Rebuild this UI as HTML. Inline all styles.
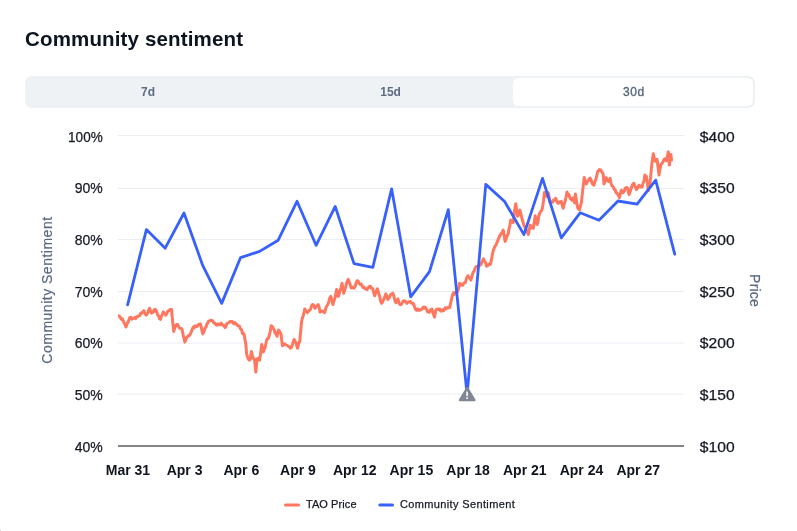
<!DOCTYPE html>
<html><head><meta charset="utf-8"><title>Community sentiment</title>
<style>
html,body{margin:0;padding:0;background:#fff;}
body{width:797px;height:531px;position:relative;overflow:hidden;font-family:"Liberation Sans",sans-serif;}
h2{position:absolute;left:25px;top:26px;margin:0;font-size:20.5px;line-height:26px;font-weight:700;color:#0d1421;white-space:nowrap;letter-spacing:0.15px}
.tabs{position:absolute;left:25px;top:76px;width:730px;height:32px;background:#eff2f5;border-radius:6.5px;box-sizing:border-box}
.tab{position:absolute;top:2px;width:240px;height:28px;line-height:28px;text-align:center;font-size:12px;font-weight:700;color:#5d6b83;border-radius:5.5px}
.tab.on{background:#fff;color:#58667e;font-weight:400;-webkit-text-stroke:0.35px #58667e;letter-spacing:0.6px}
svg text{font-family:"Liberation Sans",sans-serif}
.ax{font-size:14px;fill:#161a25;stroke:#161a25;stroke-width:0.25px}
.xl{font-size:14px;font-weight:700;fill:#10141f}
.at{font-size:14px;fill:#5b6880;stroke:#5b6880;stroke-width:0.2px}
.lg{font-size:11px;fill:#161a25;stroke:#161a25;stroke-width:0.25px}
</style></head><body>
<h2>Community sentiment</h2>
<div class="tabs"><div class="tab" style="left:3px">7d</div><div class="tab" style="left:245.6px">15d</div><div class="tab on" style="left:488px"><span style="position:relative;left:0.8px">30d</span></div></div>
<svg width="797" height="531" viewBox="0 0 797 531" style="position:absolute;left:0;top:0">
<rect x="118" y="135.0" width="566" height="1" fill="#eaeef3"/>
<rect x="118" y="188.0" width="566" height="1" fill="#eaeef3"/>
<rect x="118" y="239.0" width="566" height="1" fill="#eaeef3"/>
<rect x="118" y="291.0" width="566" height="1" fill="#eaeef3"/>
<rect x="118" y="342.5" width="566" height="1" fill="#eaeef3"/>
<rect x="118" y="393.5" width="566" height="1" fill="#eaeef3"/>
<rect x="118" y="445" width="566" height="2" fill="#828488"/>
<clipPath id="pc"><rect x="118" y="120" width="566" height="330"/></clipPath>
<polyline clip-path="url(#pc)" points="118.1,315.7 118.9,316.1 119.8,316.6 120.6,318.2 121.5,319.4 122.3,318.9 123.2,320.7 124.1,322.9 125.1,324.6 126.0,327.0 127.1,323.5 128.2,322.0 129.0,319.8 129.8,317.6 130.9,317.3 131.9,319.1 132.9,318.5 133.8,318.2 134.8,317.5 135.7,318.6 136.7,316.7 137.8,316.5 138.8,315.7 139.6,315.8 140.5,313.6 141.3,313.8 142.2,312.2 143.0,312.0 143.9,310.7 145.1,313.8 146.1,315.1 147.0,314.4 147.8,312.5 148.7,310.0 149.5,308.2 150.6,311.7 151.6,313.2 152.5,311.3 153.4,312.1 154.3,309.9 155.2,309.4 156.0,310.5 156.9,312.4 157.7,315.1 158.6,316.1 159.5,318.7 160.4,319.5 161.4,316.3 162.3,314.6 163.3,311.9 164.1,313.3 165.0,313.8 165.8,315.1 166.6,314.1 167.4,311.9 168.2,310.8 169.0,310.7 169.8,309.6 170.7,310.2 171.5,309.4 172.5,320.1 173.7,331.4 174.8,328.1 175.9,325.1 176.8,324.4 177.7,324.5 178.6,326.5 179.6,328.2 180.4,328.5 181.3,328.6 182.1,329.5 183.0,334.3 184.0,338.3 184.9,342.1 186.0,339.0 187.1,337.0 187.9,336.4 188.7,335.5 189.5,335.5 190.3,333.9 191.3,332.1 192.4,328.8 193.4,327.0 194.2,327.9 195.0,325.9 195.8,326.4 196.6,326.4 197.5,326.3 198.4,324.4 199.4,324.5 200.3,323.9 201.1,326.2 202.0,330.9 202.8,333.9 203.6,332.4 204.5,329.9 205.3,327.6 206.1,326.9 206.9,324.0 207.7,323.3 208.5,321.3 209.3,321.1 210.2,320.7 211.0,320.1 211.8,320.3 212.5,320.7 213.4,322.3 214.3,323.4 215.1,323.3 216.0,324.6 216.9,325.1 217.8,323.8 218.7,324.8 219.5,324.3 220.4,324.7 221.3,323.2 222.2,325.0 223.2,324.9 224.2,326.2 225.1,327.6 225.9,326.5 226.8,323.6 227.6,323.2 228.5,322.8 229.4,321.8 230.4,321.4 231.3,321.9 232.2,321.6 233.2,323.2 234.0,323.9 234.9,322.7 235.7,323.6 236.6,324.1 237.6,325.7 238.6,325.8 239.5,326.3 240.4,328.7 241.4,329.4 242.6,333.8 243.3,333.2 244.1,334.5 244.9,339.1 245.8,343.9 246.6,353.9 247.4,356.5 248.3,358.9 249.2,360.1 250.2,359.6 251.4,351.4 252.4,355.6 253.3,358.3 254.5,359.6 255.8,372.1 257.1,358.9 258.3,358.3 259.6,360.2 260.6,353.2 261.7,344.5 262.5,347.8 263.3,352.0 264.2,349.3 265.2,347.0 266.5,340.7 267.3,338.9 268.2,338.6 269.0,336.3 270.1,332.0 271.2,325.7 272.3,326.5 273.4,328.8 274.3,330.3 275.2,333.2 276.1,334.2 277.1,336.3 278.4,330.1 279.2,330.7 280.1,332.5 280.9,333.8 281.7,340.0 282.5,345.8 283.4,344.8 284.4,343.8 285.3,344.5 286.3,345.0 287.4,345.5 288.4,346.4 289.4,346.9 290.3,348.2 291.3,347.6 292.2,345.3 293.2,342.2 294.1,339.5 295.1,341.3 296.0,342.6 296.8,345.8 297.5,348.3 298.6,343.9 299.7,341.4 300.6,332.2 301.6,321.3 302.5,317.7 303.3,315.4 304.0,312.7 304.8,308.9 305.7,310.8 306.6,311.2 307.5,312.7 308.3,311.6 309.2,310.2 310.0,310.2 310.8,308.6 311.7,305.4 312.5,304.5 313.4,304.8 314.2,306.4 315.1,308.3 316.1,306.3 317.2,305.4 318.2,304.5 319.1,307.3 320.1,312.1 320.9,310.8 321.8,310.9 322.6,311.4 323.6,311.2 324.5,312.7 325.3,310.1 326.2,307.1 327.0,305.8 327.9,304.3 328.9,301.4 329.8,298.0 330.7,296.4 331.8,299.9 332.9,304.5 334.0,300.7 335.1,297.6 335.9,293.3 336.6,289.5 337.5,292.1 338.3,296.4 339.2,294.0 340.2,290.1 341.1,287.7 342.0,283.2 342.9,288.1 343.7,293.2 344.8,289.7 345.8,286.3 346.6,283.1 347.5,280.8 348.3,279.4 349.1,281.6 350.0,283.9 350.8,287.0 351.6,288.0 352.4,286.9 353.2,286.9 354.0,288.2 355.0,286.7 356.1,283.3 357.1,280.7 358.1,281.2 359.2,283.3 360.2,284.4 361.1,284.0 362.1,285.8 363.1,287.4 364.0,287.0 365.0,288.6 366.1,289.1 367.1,289.5 367.9,287.9 368.8,287.1 369.6,286.3 370.4,286.2 371.2,288.1 372.0,288.2 372.8,288.8 373.8,292.9 374.7,295.7 375.6,293.0 376.6,290.5 377.5,288.8 378.6,293.3 379.7,296.4 380.6,300.9 381.6,303.3 382.5,302.2 383.3,300.2 384.2,298.4 385.0,296.3 385.9,293.9 386.9,296.1 387.8,299.5 388.6,298.5 389.5,297.1 390.3,295.3 391.1,294.3 392.0,293.8 392.8,293.2 393.6,295.0 394.4,298.3 395.2,301.3 396.0,302.6 396.9,300.6 397.9,298.9 398.9,302.7 400.0,304.6 400.9,304.7 401.9,303.7 402.9,301.5 403.8,300.8 404.8,301.0 405.9,301.9 406.9,303.3 407.7,302.2 408.5,301.7 409.3,302.1 410.1,301.4 411.1,302.9 412.2,303.4 413.2,303.3 414.0,305.4 414.9,307.8 415.7,309.6 416.6,310.3 417.5,308.7 418.3,310.0 419.2,310.5 420.1,309.6 420.9,309.8 421.8,309.3 422.6,308.3 423.4,307.2 424.3,308.2 425.1,307.1 426.1,308.4 427.2,311.1 428.2,312.1 429.1,312.4 430.1,310.3 431.1,309.6 432.0,309.0 432.8,312.7 433.7,314.9 434.5,317.1 435.8,310.2 436.8,309.3 437.9,309.0 438.9,309.6 439.8,309.1 440.7,311.0 441.5,311.0 442.4,309.8 443.3,310.8 444.2,310.0 445.2,307.7 446.1,308.8 447.0,308.0 447.8,307.4 448.7,307.8 449.6,307.7 450.8,302.7 451.8,297.8 452.7,294.5 453.5,292.8 454.4,294.3 455.2,292.6 456.0,292.5 456.9,291.9 457.7,291.4 458.6,288.3 459.6,283.2 460.4,283.7 461.3,285.3 462.1,285.1 462.9,285.2 463.7,283.2 464.5,282.7 465.3,282.6 466.1,279.8 467.0,277.4 467.8,275.7 468.8,277.4 469.9,278.1 470.9,280.1 471.7,277.2 472.6,273.8 473.4,271.9 474.2,271.1 475.1,268.2 475.9,266.9 476.8,266.4 477.7,266.3 478.5,266.6 479.4,265.2 480.3,265.0 481.1,264.4 481.9,261.9 482.7,260.4 483.5,258.8 484.5,261.4 485.6,262.7 486.6,266.3 487.6,265.7 488.5,264.7 489.4,263.8 490.4,264.4 491.4,259.9 492.5,254.0 493.4,250.1 494.4,247.7 495.2,246.0 496.1,244.9 496.9,242.7 497.7,240.9 498.5,238.6 499.3,237.1 500.1,235.2 501.1,233.6 502.2,232.4 503.2,230.1 504.1,234.9 505.1,241.4 506.1,239.0 507.2,235.8 508.2,233.9 509.0,228.8 509.9,225.3 510.7,220.1 511.5,221.0 512.4,221.9 513.2,222.6 514.5,211.3 515.8,203.8 516.7,210.6 517.6,216.3 518.4,215.1 519.1,212.0 519.9,210.1 521.0,214.7 522.0,218.8 523.0,222.0 523.9,225.1 524.8,227.0 525.8,228.9 526.6,231.2 527.5,232.5 528.3,234.5 529.2,229.9 530.2,225.1 531.2,226.1 532.3,228.1 533.3,228.2 534.2,222.4 535.2,215.7 536.2,220.9 537.1,224.5 537.9,222.0 538.6,217.0 539.4,214.0 540.4,212.0 541.5,210.8 542.5,207.7 543.5,200.9 544.4,192.6 545.2,193.1 546.1,194.3 546.9,196.4 548.2,192.6 549.2,197.5 550.1,202.7 550.9,201.6 551.8,201.7 552.6,202.1 553.6,199.9 554.7,199.9 555.7,198.3 556.5,200.6 557.4,202.5 558.2,203.3 559.2,201.9 560.3,202.5 561.3,201.4 562.2,205.2 563.2,208.3 564.2,204.1 565.1,201.4 566.0,197.5 567.0,192.0 567.8,194.5 568.7,194.3 569.5,196.4 570.3,198.7 571.2,198.7 572.0,200.2 573.3,197.7 574.5,202.7 575.4,193.9 576.2,198.5 576.9,204.2 577.7,207.7 578.6,209.4 579.5,209.6 580.5,205.4 581.4,202.7 582.7,190.1 583.5,183.7 584.2,177.6 585.3,180.8 586.4,183.9 587.3,181.9 588.3,180.7 589.2,178.8 590.2,178.2 591.2,180.3 592.1,183.2 593.0,184.6 594.0,185.1 595.0,181.2 595.9,179.5 596.8,175.5 597.7,171.3 598.5,170.9 599.3,169.6 600.1,170.0 600.9,170.1 602.0,172.3 603.1,173.9 604.0,183.9 604.8,181.8 605.5,178.7 606.3,177.6 607.2,180.6 608.2,181.4 609.1,180.5 610.0,178.3 611.0,183.1 611.9,185.8 612.7,186.2 613.6,187.8 614.4,189.6 615.2,189.8 616.1,192.7 616.9,193.3 617.7,194.3 618.6,195.4 619.4,197.7 620.3,193.8 621.3,190.2 622.2,192.4 623.2,192.7 624.2,191.2 625.1,188.3 625.9,187.8 626.8,187.5 627.6,188.3 628.4,192.4 629.1,194.6 629.9,192.5 630.6,190.4 631.4,187.7 632.2,185.3 633.1,183.8 633.9,183.3 634.7,185.8 635.6,187.3 636.4,189.6 637.2,187.2 638.1,187.6 638.9,185.2 639.9,186.1 641.0,187.1 642.0,187.1 643.0,183.3 643.9,181.4 644.9,175.1 645.6,176.5 646.4,176.4 647.3,182.6 648.3,190.8 649.2,186.9 650.2,181.4 651.0,173.1 651.7,165.1 652.5,159.1 653.3,153.8 654.2,157.7 655.2,161.3 656.2,161.3 657.1,159.4 658.0,166.7 659.0,175.1 660.0,169.0 660.9,164.5 661.8,163.6 662.7,162.6 663.7,160.1 664.6,158.8 665.5,158.9 666.5,160.7 667.5,155.6 668.4,151.9 669.4,165.1 670.1,158.8 670.9,154.4 671.5,160.1" fill="none" stroke="#ff775f" stroke-width="3" stroke-linejoin="round" stroke-linecap="round"/>
<polyline points="127.6,304.9 146.4,229.6 165.2,248.2 184,213 202.8,265.7 221.7,303.4 240.5,257.7 259.6,251.4 278.2,240.2 297,201.3 316.1,245.3 335.2,206.4 354,263.6 372.8,267.4 391.6,188.8 410.7,296.8 429.5,271.6 448.3,209.6 467.1,394.5 485.8,184.4 504.6,201.5 523.9,234.6 542.5,178.4 561.3,237.9 580.1,212.8 599,220.3 618,201 637.1,204.2 655.7,180.2 674.7,254.2" fill="none" stroke="#3861fb" stroke-width="2.8" stroke-linejoin="round" stroke-linecap="round"/>
<path d="M467.2 388.1 L474.4 400.1 L460 400.1 Z" fill="#808694" stroke="#808694" stroke-width="2.4" stroke-linejoin="round"/>
<rect x="466.3" y="391.6" width="1.6" height="4.6" fill="#fff"/><rect x="466.3" y="397.4" width="1.6" height="1.6" fill="#fff"/>
<text x="68.1" y="141.9" textLength="34.6" lengthAdjust="spacingAndGlyphs" class="ax">100%</text>
<text x="74.7" y="192.8" textLength="28" lengthAdjust="spacingAndGlyphs" class="ax">90%</text>
<text x="74.7" y="244.8" textLength="28" lengthAdjust="spacingAndGlyphs" class="ax">80%</text>
<text x="74.7" y="297.0" textLength="28" lengthAdjust="spacingAndGlyphs" class="ax">70%</text>
<text x="74.7" y="348.1" textLength="28" lengthAdjust="spacingAndGlyphs" class="ax">60%</text>
<text x="74.7" y="399.9" textLength="28" lengthAdjust="spacingAndGlyphs" class="ax">50%</text>
<text x="74.7" y="451.9" textLength="28" lengthAdjust="spacingAndGlyphs" class="ax">40%</text>
<text x="699.8" y="141.9" textLength="34.8" lengthAdjust="spacingAndGlyphs" class="ax">$400</text>
<text x="699.8" y="192.8" textLength="34.8" lengthAdjust="spacingAndGlyphs" class="ax">$350</text>
<text x="699.8" y="244.8" textLength="34.8" lengthAdjust="spacingAndGlyphs" class="ax">$300</text>
<text x="699.8" y="297.0" textLength="34.8" lengthAdjust="spacingAndGlyphs" class="ax">$250</text>
<text x="699.8" y="348.1" textLength="34.8" lengthAdjust="spacingAndGlyphs" class="ax">$200</text>
<text x="699.8" y="399.9" textLength="34.8" lengthAdjust="spacingAndGlyphs" class="ax">$150</text>
<text x="699.8" y="451.9" textLength="34.8" lengthAdjust="spacingAndGlyphs" class="ax">$100</text>
<text x="127.9" y="475.3" text-anchor="middle" class="xl">Mar 31</text>
<text x="184.60000000000002" y="475.3" text-anchor="middle" class="xl">Apr 3</text>
<text x="241.3" y="475.3" text-anchor="middle" class="xl">Apr 6</text>
<text x="298.0" y="475.3" text-anchor="middle" class="xl">Apr 9</text>
<text x="354.70000000000005" y="475.3" text-anchor="middle" class="xl">Apr 12</text>
<text x="411.4" y="475.3" text-anchor="middle" class="xl">Apr 15</text>
<text x="468.1" y="475.3" text-anchor="middle" class="xl">Apr 18</text>
<text x="524.8000000000001" y="475.3" text-anchor="middle" class="xl">Apr 21</text>
<text x="581.5" y="475.3" text-anchor="middle" class="xl">Apr 24</text>
<text x="638.2" y="475.3" text-anchor="middle" class="xl">Apr 27</text>
<text transform="translate(52,290.3) rotate(-90)" x="-73.4" textLength="146.8" lengthAdjust="spacing" class="at">Community Sentiment</text>
<text transform="translate(750,290.5) rotate(90)" x="-16.4" textLength="32.7" lengthAdjust="spacing" class="at">Price</text>
<line x1="285.5" y1="505" x2="298.5" y2="505" stroke="#ff775f" stroke-width="3" stroke-linecap="round"/>
<text x="305.9" y="508.3" textLength="50.6" lengthAdjust="spacing" class="lg">TAO Price</text>
<line x1="379.8" y1="505" x2="392.5" y2="505" stroke="#3861fb" stroke-width="3" stroke-linecap="round"/>
<text x="399.9" y="508.3" textLength="114.8" lengthAdjust="spacing" class="lg">Community Sentiment</text>
<rect x="0" y="530" width="1" height="1" fill="#cfcfcf"/>
</svg>
</body></html>
